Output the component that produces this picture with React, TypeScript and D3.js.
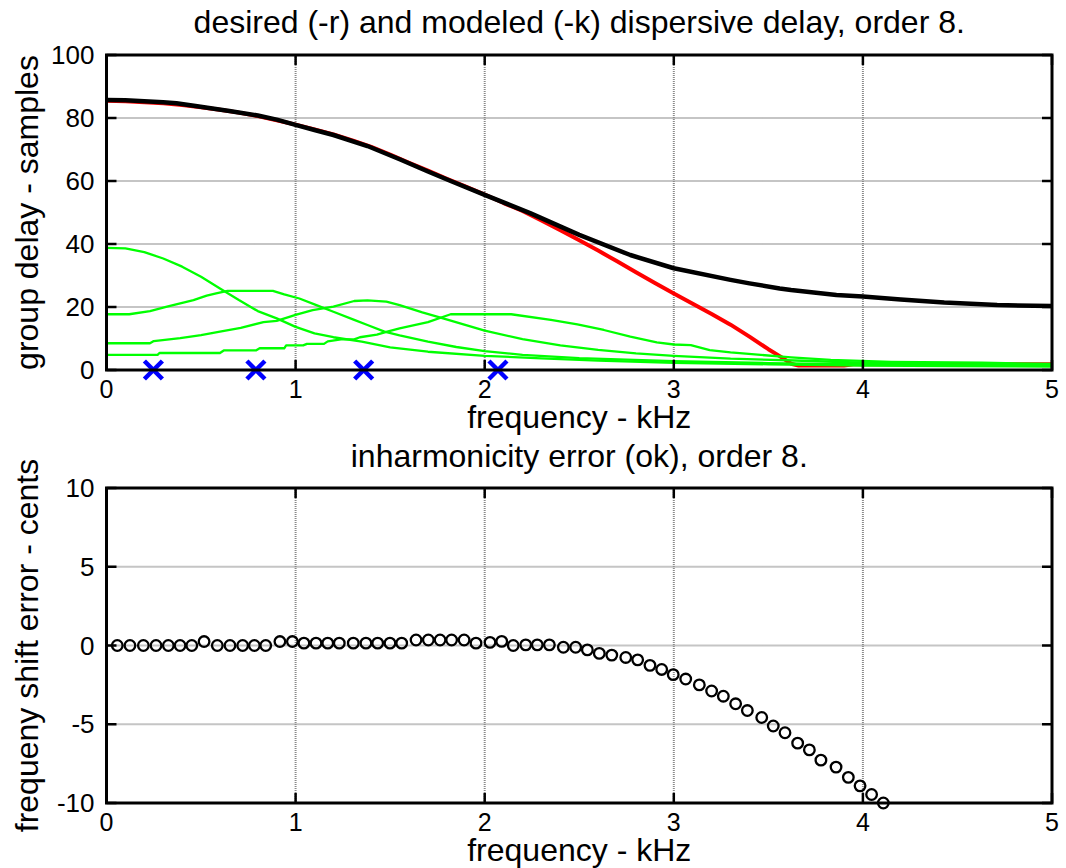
import React from "react";
import * as d3 from "d3";

// ---------- data ----------
const freqTicks = [0, 1, 2, 3, 4, 5];
const delayTicks = [0, 20, 40, 60, 80, 100];
const centsTicks = [-10, -5, 0, 5, 10];

// desired dispersive delay (red)
const desiredF = [0, 0.1, 0.2, 0.3, 0.4, 0.5, 0.6, 0.7, 0.8, 0.9, 1.0, 1.1, 1.2, 1.3, 1.4, 1.5, 1.6, 1.7, 1.8, 1.9, 2.0, 2.1, 2.2, 2.3, 2.4, 2.5, 2.6, 2.7, 2.8, 2.9, 3.0, 3.1, 3.2, 3.3, 3.4, 3.5, 3.56, 3.62, 3.66, 3.9, 3.95, 5.0];
const desiredD = [85.5, 85.3, 85.0, 84.7, 84.1, 83.4, 82.6, 81.7, 80.6, 79.3, 77.9, 76.4, 74.8, 72.9, 70.8, 68.4, 65.8, 63.3, 60.7, 58.2, 55.7, 53.0, 50.5, 47.5, 44.4, 41.2, 37.9, 34.5, 31.0, 27.6, 24.3, 21.0, 17.8, 14.4, 10.6, 6.6, 4.4, 2.0, 1.4, 1.4, 1.8, 1.8];

// modeled dispersive delay (black)
const modeledF = [0, 0.1, 0.2, 0.3, 0.37, 0.48, 0.56, 0.65, 0.8, 0.9, 1.0, 1.1, 1.2, 1.38, 1.55, 1.7, 1.82, 2.0, 2.24, 2.5, 2.77, 3.0, 3.3, 3.4, 3.56, 3.62, 3.86, 4.0, 4.2, 4.43, 4.71, 5.0];
const modeledD = [85.7, 85.6, 85.3, 85.0, 84.7, 83.7, 83.0, 82.2, 80.8, 79.5, 77.8, 76.2, 74.6, 71.1, 66.9, 63.0, 60.0, 55.6, 49.8, 42.9, 36.5, 32.3, 28.6, 27.5, 25.9, 25.4, 23.8, 23.3, 22.4, 21.4, 20.6, 20.3];

// individual allpass section delays (green)
const secAF = [0, 0.1, 0.2, 0.3, 0.4, 0.5, 0.6, 0.7, 0.8, 0.9, 1.0, 1.1, 1.2, 1.35, 1.5, 1.7, 2.0, 2.3, 2.6, 3.0, 3.5, 4.0, 4.5, 5.0];
const secAD = [38.8, 38.6, 37.4, 35.4, 32.8, 29.6, 25.9, 22.2, 18.7, 16.4, 13.7, 11.6, 10.4, 9.0, 7.2, 5.8, 4.5, 3.7, 3.0, 2.3, 1.8, 1.4, 1.2, 1.1];

const secBF = [0, 0.12, 0.23, 0.32, 0.46, 0.53, 0.58, 0.64, 0.88, 0.94, 1.02, 1.11, 1.2, 1.31, 1.38, 1.47, 1.55, 1.7, 1.85, 2.0, 2.2, 2.5, 3.0, 3.5, 4.0, 4.5, 5.0];
const secBD = [17.7, 17.7, 18.7, 20.1, 22.2, 23.6, 24.3, 25.1, 25.1, 24.0, 22.7, 20.6, 18.5, 15.9, 14.3, 12.2, 11.0, 9.0, 7.3, 6.0, 4.8, 3.8, 2.8, 2.2, 1.8, 1.5, 1.3];

const secCF = [0, 0.23, 0.25, 0.39, 0.5, 0.6, 0.71, 0.83, 0.9, 1.0, 1.09, 1.2, 1.31, 1.38, 1.48, 1.55, 1.67, 1.78, 2.0, 2.2, 2.4, 2.6, 2.8, 3.0, 3.3, 3.6, 4.0, 4.5, 5.0];
const secCD = [8.5, 8.5, 9.2, 10.1, 11.1, 12.2, 13.4, 15.2, 15.6, 17.5, 19.0, 20.1, 21.9, 22.1, 21.7, 20.6, 18.3, 16.4, 12.5, 9.8, 7.8, 6.4, 5.3, 4.5, 3.6, 3.1, 2.3, 1.8, 1.5];

const secDF = [0, 0.27, 0.28, 0.6, 0.62, 0.79, 0.81, 0.94, 0.95, 1.04, 1.06, 1.15, 1.17, 1.24, 1.31, 1.34, 1.43, 1.48, 1.55, 1.7, 1.82, 2.14, 2.35, 2.49, 2.63, 2.77, 2.91, 3.0, 3.09, 3.19, 3.3, 3.46, 3.62, 3.83, 4.15, 4.63, 5.0];
const secDD = [4.8, 4.8, 5.4, 5.4, 6.2, 6.2, 6.9, 6.9, 7.8, 7.8, 8.3, 8.3, 9.1, 9.7, 9.7, 10.4, 11.2, 12.1, 13.2, 15.2, 17.7, 17.7, 15.9, 14.5, 12.7, 10.6, 8.8, 8.1, 7.9, 6.3, 5.6, 4.8, 4.0, 3.2, 2.6, 2.3, 1.9];

// pole frequencies (blue x)
const poleFreqs = [0.248, 0.79, 1.36, 2.07];

// partial frequencies and inharmonicity error (circles)
const partialFreqs = [0.057, 0.124, 0.195, 0.262, 0.327, 0.389, 0.451, 0.516, 0.586, 0.653, 0.720, 0.782, 0.842, 0.917, 0.983, 1.044, 1.108, 1.170, 1.231, 1.305, 1.372, 1.434, 1.499, 1.561, 1.637, 1.702, 1.764, 1.825, 1.891, 1.954, 2.028, 2.090, 2.151, 2.217, 2.278, 2.342, 2.416, 2.481, 2.543, 2.606, 2.672, 2.746, 2.809, 2.874, 2.936, 2.997, 3.063, 3.135, 3.200, 3.262, 3.327, 3.389, 3.465, 3.526, 3.588, 3.655, 3.717, 3.778, 3.858, 3.923, 3.985, 4.046, 4.108];
const centsError = [0, 0, 0, 0, 0, 0, 0, 0.25, 0, 0, 0, 0, 0, 0.25, 0.25, 0.15, 0.15, 0.15, 0.15, 0.15, 0.15, 0.15, 0.15, 0.15, 0.35, 0.35, 0.35, 0.35, 0.35, 0.15, 0.2, 0.26, 0, 0.04, 0.04, 0.04, -0.11, -0.11, -0.28, -0.5, -0.61, -0.76, -0.91, -1.26, -1.52, -1.85, -2.13, -2.5, -2.89, -3.22, -3.7, -4.13, -4.57, -5.11, -5.54, -6.2, -6.63, -7.28, -7.72, -8.37, -8.91, -9.46, -10.0];

// ---------- layout ----------
const W = 1066;
const H = 868;
const FONT = "'Liberation Sans', Arial, Helvetica, sans-serif";
const X0 = 106.5;
const X1 = 1052;
const top = { y0: 55, y1: 370 };
const bot = { y0: 488, y1: 803 };

const xTop = d3.scaleLinear().domain([0, 5]).range([X0, X1]);
const yTop = d3.scaleLinear().domain([0, 100]).range([top.y1, top.y0]);
const xBot = d3.scaleLinear().domain([0, 5]).range([X0, X1]);
const yBot = d3.scaleLinear().domain([-10, 10]).range([bot.y1, bot.y0]);

const zip = (fs: number[], vs: number[]) => fs.map((f, i) => [f, vs[i]] as [number, number]);

function Axes(props: {
  x: d3.ScaleLinear<number, number>;
  y: d3.ScaleLinear<number, number>;
  xt: number[];
  yt: number[];
  children?: React.ReactNode;
  title: string;
  ylabel: string;
  titleY: number;
  id: string;
}) {
  const { x, y, xt, yt, title, ylabel, titleY, id } = props;
  const [xa, xb] = x.range();
  const [ya, yb] = y.range(); // ya bottom, yb top
  const tick = 10;
  const cx = (xa + xb) / 2;
  const cy = (ya + yb) / 2;
  return (
    <g>
      <defs>
        <clipPath id={id}>
          <rect x={xa} y={yb} width={xb - xa} height={ya - yb} />
        </clipPath>
      </defs>
      {xt.slice(1, -1).map((t) => (
        <line key={"gx" + t} x1={x(t)} x2={x(t)} y1={yb} y2={ya} stroke="#8a8a8a" strokeWidth={2} strokeDasharray="1,1" />
      ))}
      {yt.slice(1, -1).map((t) => (
        <line key={"gy" + t} x1={xa} x2={xb} y1={y(t)} y2={y(t)} stroke="#8a8a8a" strokeWidth={2} strokeDasharray="1,1" />
      ))}
      {props.children}
      <rect x={xa} y={yb} width={xb - xa} height={ya - yb} fill="none" stroke="#000" strokeWidth={3} />
      {xt.map((t) => (
        <g key={"tx" + t}>
          <line x1={x(t)} x2={x(t)} y1={ya} y2={ya - tick} stroke="#000" strokeWidth={2.5} />
          <line x1={x(t)} x2={x(t)} y1={yb} y2={yb + tick} stroke="#000" strokeWidth={2.5} />
          <text x={x(t)} y={ya + 28} textAnchor="middle" fontSize={25} fontFamily={FONT}>{t}</text>
        </g>
      ))}
      {yt.map((t) => (
        <g key={"ty" + t}>
          <line x1={xa} x2={xa + tick} y1={y(t)} y2={y(t)} stroke="#000" strokeWidth={2.5} />
          <line x1={xb} x2={xb - tick} y1={y(t)} y2={y(t)} stroke="#000" strokeWidth={2.5} />
          <text x={xa - 12} y={y(t) + 9} textAnchor="end" fontSize={26} fontFamily={FONT}>{t}</text>
        </g>
      ))}
      <text x={cx} y={ya + 58} textAnchor="middle" fontSize={32} fontFamily={FONT}>frequency - kHz</text>
      <text x={cx} y={titleY} textAnchor="middle" fontSize={32} fontFamily={FONT}>{title}</text>
      <text transform={`translate(38,${cy}) rotate(-90)`} textAnchor="middle" fontSize={32} fontFamily={FONT}>{ylabel}</text>
    </g>
  );
}

export default function App() {
  const lineTop = d3
    .line<[number, number]>()
    .x((d) => xTop(d[0]))
    .y((d) => yTop(d[1]));

  const sections = [
    zip(secAF, secAD),
    zip(secBF, secBD),
    zip(secCF, secCD),
    zip(secDF, secDD),
  ];
  const xs = 9;

  return (
    <svg width={W} height={H} style={{ position: "absolute", left: 0, top: 0, background: "#fff" }}>
      <rect width={W} height={H} fill="#fff" />
      <Axes
        id="clipTop"
        x={xTop}
        y={yTop}
        xt={freqTicks}
        yt={delayTicks}
        title="desired (-r) and modeled (-k) dispersive delay, order 8."
        ylabel="group delay - samples"
        titleY={33}
      >
        <g clipPath="url(#clipTop)">
          <path d={lineTop(zip(desiredF, desiredD)) || ""} fill="none" stroke="#ff0000" strokeWidth={4} strokeLinejoin="round" />
          <path d={lineTop(zip(modeledF, modeledD)) || ""} fill="none" stroke="#000" strokeWidth={4.5} strokeLinejoin="round" />
          {sections.map((s, i) => (
            <path key={i} d={lineTop(s) || ""} fill="none" stroke="#00ff00" strokeWidth={2.3} strokeLinejoin="round" />
          ))}
        </g>
        {poleFreqs.map((f) => {
          const px = xTop(f);
          const py = yTop(0);
          return (
            <g key={f} stroke="#0000ff" strokeWidth={4.5}>
              <line x1={px - xs} y1={py - xs} x2={px + xs} y2={py + xs} />
              <line x1={px - xs} y1={py + xs} x2={px + xs} y2={py - xs} />
            </g>
          );
        })}
      </Axes>
      <Axes
        id="clipBot"
        x={xBot}
        y={yBot}
        xt={freqTicks}
        yt={centsTicks}
        title="inharmonicity error (ok), order 8."
        ylabel="frequeny shift error - cents"
        titleY={467}
      >
        {partialFreqs.map((f, i) => (
          <circle key={i} cx={xBot(f)} cy={yBot(centsError[i])} r={5.3} fill="none" stroke="#000" strokeWidth={2.3} />
        ))}
      </Axes>
    </svg>
  );
}
